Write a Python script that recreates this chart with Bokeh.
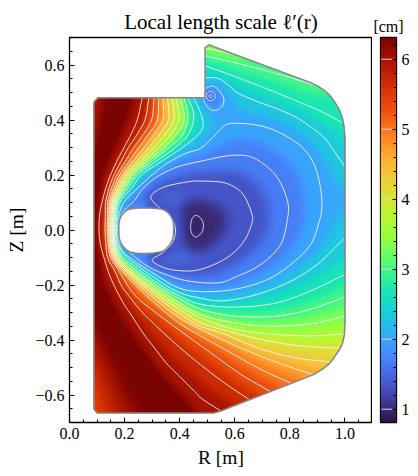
import numpy as np
from bokeh.embed import file_html
from bokeh.layouts import row
from bokeh.models import FixedTicker, Label, LinearAxis, LinearColorMapper, Range1d
from bokeh.palettes import Turbo256
from bokeh.plotting import figure
from bokeh.resources import INLINE

FONT = "Liberation Serif"
TITLE = "Local length scale ℓ′(r)"
COLOR_LOW = 0.81
COLOR_HIGH = 6.31
X_TICKS = [0.0, 0.2, 0.4, 0.6, 0.8, 1.0]
Y_TICKS = [-0.6, -0.4, -0.2, 0.0, 0.2, 0.4, 0.6]
CB_TICKS = [1, 2, 3, 4, 5, 6]

vessel = [(.0885,.465),(.103,.481),(.492,.481),(.492,.663),(.507,.673),(.876,.536),(.90,.524),(.925,.508),(.945,.49),(.963,.465),(.979,.439),
          (.99,.41),(.996,.38),(1.0,.34),(1.0,-.34),(.998,-.38),(.992,-.41),(.983,-.43),(.973,-.446),(.958,-.468),(.943,-.486),(.92,-.505),(.888,-.525),
          (.549,-.658),(.525,-.665),(.1,-.665),(.0885,-.652),(.0885,.465)]
hole = [(.179,0),(.181,.035),(.195,.06),(.216,.075),(.337,.075),(.36,.06),(.375,.035),(.378,0),(.375,-.03),(.36,-.058),
        (.335,-.078),(.222,-.08),(.195,-.06),(.181,-.03),(.179,0)]

c0 = [(.44,.02),(.447,.045),(.458,.053),(.475,.045),(.486,.02),(.482,-.005),(.47,-.02),(.458,-.026),(.445,-.015),(.44,.003),(.44,.02)]
c1 = [(.295,.12),(.32,.145),(.355,.16),(.452,.178),(.476,.178),(.561,.172),(.605,.152),(.634,.124),(.664,.05),(.664,.033),(.634,-.04),(.573,-.1),(.476,-.143),
      (.416,-.149),(.343,-.137),(.30,-.11),(.337,-.083),(.373,-.046),(.385,0),(.373,.039),(.349,.063),(.319,.087),(.295,.12)]
c2 = [(.175,0),(.185,.05),(.205,.078),(.233,.104),(.264,.148),(.313,.19),(.385,.227),(.476,.25),(.598,.272),(.658,.266),(.707,.238),(.755,.19),(.794,.093),
      (.79,.033),(.767,-.052),(.695,-.125),(.598,-.173),(.549,-.191),(.428,-.185),(.331,-.155),(.282,-.131),(.24,-.10),(.205,-.07),(.186,-.05),(.175,0)]
c3 = [(.17,0),(.179,-.05),(.195,-.08),(.225,-.105),(.30,-.155),(.40,-.212),(.476,-.224),(.598,-.216),(.719,-.18),(.804,-.125),(.876,-.052),(.907,.033),
      (.915,.07),(.913,.142),(.887,.24),(.84,.305),(.719,.372),(.598,.388),(.567,.382),(.519,.336),(.476,.297),(.42,.278),(.35,.24),(.30,.20),(.245,.15),(.197,.10),(.178,.05),(.17,0)]
c3_nub = [(.485,.48),(.492,.46),(.513,.437),(.543,.439),(.561,.469),(.543,.508),(.519,.524),(.495,.515)]
c2_nub = [(.530,.487),(.525,.499),(.513,.504),(.501,.499),(.496,.487),(.501,.475),(.513,.470),(.525,.475),(.530,.487)]
c1_nub = [(.519,.487),(.517,.491),(.513,.493),(.509,.491),(.507,.487),(.509,.483),(.513,.481),(.517,.483),(.519,.487)]
c4 = [(.451,.48),(.47,.44),(.483,.40),(.484,.375),(.47,.35),(.41,.30),(.335,.25),(.262,.20),(.224,.15),(.183,.10),(.172,.05),(.167,0),(.174,-.05),(.208,-.10),(.22,-.11),
      (.30,-.168),(.40,-.228),(.476,-.248),(.549,-.258),(.682,-.234),(.804,-.186),(.9,-.125),(1.0,-.028)]
c4_top = [(.495,.554),(.537,.552),(.573,.53),(.609,.5),(.682,.467),(.75,.442),(.815,.414),(.875,.375),(.924,.336),(.998,.233)]
c5 = [(.431,.48),(.451,.42),(.436,.355),(.385,.30),(.315,.25),(.248,.20),(.212,.15),(.176,.10),(.168,.05),(.164,0),(.17,-.05),(.196,-.10),(.22,-.12),
      (.30,-.18),(.40,-.24),(.476,-.27),(.622,-.28),(.755,-.264),(.888,-.216),(1.0,-.161)]
c5_top = [(.495,.596),(.58,.566),(.658,.536),(.75,.50),(.84,.463),(.92,.428),(.991,.39)]
c6 = [(.416,.48),(.43,.415),(.41,.345),(.361,.30),(.298,.25),(.237,.20),(.203,.15),(.171,.10),(.164,.05),(.161,0),(.166,-.05),(.188,-.10),(.22,-.13),
      (.30,-.19),(.40,-.25),(.476,-.288),(.598,-.313),(.755,-.313),(.876,-.288),(1.0,-.244)]
c6_top = [(.495,.633),(.598,.609),(.719,.578),(.888,.528)]
c7 = [(.402,.48),(.416,.40),(.385,.345),(.343,.30),(.285,.25),(.228,.20),(.195,.15),(.167,.10),(.161,.05),(.159,0),(.163,-.05),(.181,-.10),(.22,-.14),
      (.30,-.198),(.40,-.265),(.476,-.307),(.634,-.343),(.779,-.349),(.9,-.337),(1.0,-.313)]
c7_top = [(.495,.661),(.55,.65),(.605,.636)]
c8 = [(.387,.48),(.397,.40),(.365,.345),(.325,.30),(.272,.25),(.219,.20),(.188,.15),(.163,.10),(.158,.05),(.156,0),(.16,-.05),(.176,-.10),(.22,-.15),
      (.30,-.21),(.40,-.277),(.476,-.319),(.598,-.361),(.755,-.38),(.876,-.385),(1.0,-.378)]
c9 = [(.373,.48),(.379,.40),(.345,.345),(.306,.30),(.258,.25),(.21,.20),(.181,.15),(.159,.10),(.155,.05),(.153,0),(.157,-.05),(.17,-.10),(.213,-.15),
      (.30,-.22),(.40,-.29),(.476,-.337),(.561,-.364),(.695,-.398),(.84,-.422),(.985,-.43)]
c10 = [(.356,.48),(.359,.40),(.325,.345),(.289,.30),(.245,.25),(.201,.20),(.174,.15),(.155,.10),(.151,.05),(.15,0),(.153,-.05),(.165,-.10),(.206,-.15),
       (.30,-.23),(.40,-.305),(.476,-.35),(.561,-.378),(.682,-.428),(.815,-.464),(.947,-.48)]
c11 = [(.34,.48),(.339,.40),(.305,.345),(.271,.30),(.231,.25),(.192,.20),(.167,.15),(.15,.10),(.147,.05),(.146,0),(.149,-.05),(.16,-.10),(.198,-.15),
       (.30,-.243),(.40,-.32),(.476,-.361),(.537,-.39),(.634,-.434),(.755,-.482),(.888,-.527)]
c12 = [(.324,.48),(.319,.40),(.285,.345),(.252,.30),(.217,.25),(.182,.20),(.16,.15),(.145,.10),(.143,.05),(.142,0),(.145,-.05),(.155,-.10),(.19,-.15),
       (.30,-.257),(.40,-.34),(.476,-.385),(.585,-.446),(.695,-.507),(.813,-.561)]
c13 = [(.307,.48),(.298,.40),(.266,.345),(.234,.30),(.203,.25),(.172,.20),(.152,.15),(.139,.10),(.138,.05),(.137,0),(.14,-.05),(.149,-.10),(.18,-.15),
       (.22,-.215),(.25,-.25),(.30,-.29),(.40,-.365),(.476,-.42),(.537,-.464),(.622,-.525),(.737,-.592)]
c14 = [(.288,.48),(.274,.40),(.244,.345),(.214,.30),(.187,.25),(.161,.20),(.143,.15),(.131,.10),(.13,.05),(.129,0),(.132,-.05),(.138,-.10),(.165,-.15),
       (.19,-.205),(.22,-.245),(.26,-.295),(.30,-.335),(.40,-.427),(.476,-.49),(.561,-.555),(.66,-.622)]
c15 = [(.264,.48),(.246,.40),(.222,.345),(.198,.30),(.172,.25),(.149,.20),(.131,.15),(.118,.10),(.109,.05),(.107,0),(.112,-.05),(.125,-.10),(.149,-.173),
       (.198,-.27),(.22,-.303),(.27,-.379),(.30,-.418),(.355,-.488),(.40,-.533),(.452,-.585),(.476,-.61),(.549,-.658)]

contour_levels = [1.0, 4/3, 5/3, 2.0, 7/3, 8/3, 3.0, 10/3, 11/3, 4.0, 13/3, 14/3, 5.0, 16/3, 17/3, 6.0]
contour_arcs = [[c0], [c1, c1_nub], [c2, c2_nub], [c3, c3_nub], [c4, c4_top], [c5, c5_top], [c6, c6_top], [c7, c7_top],
                [c8], [c9], [c10], [c11], [c12], [c13], [c14], [c15]]

saturated_edge = [(.2,.48),(.14,.30),(.10,.20),(.09,.0),(.09,-.05),(.10,-.2),(.15,-.32),(.2,-.40),(.3,-.55),(.4,-.66)]
saturated_level = 6.4
centre_point = [(.46,.015)]
centre_level = 0.85
nub_point = [(.513,.487)]
nub_level = 1.2
tip_point = [(.505,.675)]
tip_level = 3.6


def spline(pts, n=10):
    """Centripetal Catmull-Rom through the read points; closed arcs wrap round."""
    a = np.array(pts, float)
    if len(a) < 3:
        return a
    closed = np.allclose(a[0], a[-1])
    b = np.vstack([a[-2], a, a[1]]) if closed else np.vstack([2 * a[0] - a[1], a, 2 * a[-1] - a[-2]])
    out = [a[0]]
    for i in range(1, len(b) - 2):
        p0, p1, p2, p3 = b[i - 1], b[i], b[i + 1], b[i + 2]
        t0 = 0.0
        t1 = t0 + max(np.hypot(*(p1 - p0)), 1e-6) ** .5
        t2 = t1 + max(np.hypot(*(p2 - p1)), 1e-6) ** .5
        t3 = t2 + max(np.hypot(*(p3 - p2)), 1e-6) ** .5
        for t in np.linspace(t1, t2, n + 1)[1:]:
            a1 = (t1 - t) / (t1 - t0) * p0 + (t - t0) / (t1 - t0) * p1
            a2 = (t2 - t) / (t2 - t1) * p1 + (t - t1) / (t2 - t1) * p2
            a3 = (t3 - t) / (t3 - t2) * p2 + (t - t2) / (t3 - t2) * p3
            b1 = (t2 - t) / (t2 - t0) * a1 + (t - t0) / (t2 - t0) * a2
            b2 = (t3 - t) / (t3 - t1) * a2 + (t - t1) / (t3 - t1) * a3
            out.append((t2 - t) / (t2 - t1) * b1 + (t - t1) / (t2 - t1) * b2)
    return np.array(out)


def densify(pts, step=.004):
    a = np.array(pts, float)
    if len(a) < 2:
        return a
    seg = np.hypot(*np.diff(a, axis=0).T)
    s = np.r_[0, np.cumsum(seg)]
    t = np.linspace(0, s[-1], max(int(s[-1] / step), 2))
    return np.c_[np.interp(t, s, a[:, 0]), np.interp(t, s, a[:, 1])]


def inside(px, py, poly):
    a = np.array(poly)
    x0, y0 = a[:-1, 0], a[:-1, 1]
    x1, y1 = a[1:, 0], a[1:, 1]
    r = np.zeros(px.shape, bool)
    for i in range(len(x0)):
        if y0[i] == y1[i]:
            continue
        c = (y0[i] > py) != (y1[i] > py)
        r ^= c & (px < x0[i] + (py - y0[i]) * (x1[i] - x0[i]) / (y1[i] - y0[i]))
    return r


PX = 1 / 275
x_c = np.arange(.06, 1.03, 2 * PX)
y_c = np.arange(-.70, .71, 2 * PX)
Xc, Yc = np.meshgrid(x_c, y_c)
groups = [(lv, np.vstack([densify(spline(a)) for a in arcs])) for lv, arcs in zip(contour_levels, contour_arcs)]
groups += [(saturated_level, densify(saturated_edge)), (centre_level, np.array(centre_point)),
           (nub_level, np.array(nub_point)), (tip_level, np.array(tip_point))]
num = np.zeros(Xc.shape)
den = np.zeros(Xc.shape)
for lv, pts in groups:
    d2 = np.full(Xc.shape, np.inf)
    for px_, py_ in pts:
        d2 = np.minimum(d2, (Xc - px_) ** 2 + (Yc - py_) ** 2)
    w = 1 / (d2 + 1e-7) ** 2
    num += w * lv
    den += w
coarse = num / den
for _ in range(6):
    coarse[1:-1, :] = (coarse[:-2, :] + 2 * coarse[1:-1, :] + coarse[2:, :]) / 4
    coarse[:, 1:-1] = (coarse[:, :-2] + 2 * coarse[:, 1:-1] + coarse[:, 2:]) / 4

x_f = np.arange(.08, 1.01, PX)
y_f = np.arange(-.675, .68, PX)
tmp = np.array([np.interp(x_f, x_c, r) for r in coarse])
field = np.array([np.interp(y_f, y_c, tmp[:, j]) for j in range(len(x_f))]).T
Xf, Yf = np.meshgrid(x_f, y_f)
hole_curve = spline(hole)
field[~inside(Xf, Yf, vessel) | inside(Xf, Yf, hole_curve)] = np.nan

mapper = LinearColorMapper(palette=Turbo256, low=COLOR_LOW, high=COLOR_HIGH, nan_color="#ffffff")

p = figure(frame_width=303, frame_height=385, min_border_left=69, min_border_right=0, min_border_top=37, min_border_bottom=54,
           x_range=Range1d(0, 1.1), y_range=Range1d(-.7, .7), output_backend="svg", toolbar_location=None,
           title=TITLE, x_axis_label="R [m]", y_axis_label="Z [m]")
p.grid.visible = False
p.image(image=[field], x=x_f[0] - PX / 2, y=y_f[0] - PX / 2, dw=len(x_f) * PX, dh=len(y_f) * PX, color_mapper=mapper)

all_arcs = [spline(a) for arcs in contour_arcs for a in arcs]
p.multi_line(xs=[a[:, 0].tolist() for a in all_arcs], ys=[a[:, 1].tolist() for a in all_arcs],
             line_color="#f4f4f4", line_width=0.9)
p.multi_line(xs=[[q[0] for q in vessel], hole_curve[:, 0].tolist()], ys=[[q[1] for q in vessel], hole_curve[:, 1].tolist()],
             line_color="#858585", line_width=1.5)

p.add_layout(Label(x=306, y=13, x_units="canvas", y_units="canvas", text="→", text_font=FONT, text_font_size="13px",
                   text_align="center", text_baseline="middle", text_color="#000000", level="overlay"))

p.title.align = "center"
p.title.text_font = FONT
p.title.text_font_size = "21px"
p.title.text_font_style = "normal"
p.title.text_color = "#000000"
p.title.standoff = 8
p.outline_line_color = "#000000"
p.outline_line_width = 1.3
overrides = {0: "0.0", 1: "1.0"}
for ax, ticks in ((p.xaxis[0], X_TICKS), (p.yaxis[0], Y_TICKS)):
    ax.ticker = FixedTicker(ticks=ticks, minor_ticks=[round(-.7 + .05 * i, 2) for i in range(0, 37)])
    ax.major_label_overrides = overrides
    ax.major_tick_in = 5
    ax.major_tick_out = 0
    ax.minor_tick_in = 3
    ax.minor_tick_out = 0
    ax.major_tick_line_color = "#000000"
    ax.minor_tick_line_color = "#000000"
    ax.axis_line_color = "#000000"
    ax.major_label_text_font = FONT
    ax.major_label_text_font_size = "16px"
    ax.major_label_text_color = "#000000"
    ax.axis_label_text_font = FONT
    ax.axis_label_text_font_size = "19.5px"
    ax.axis_label_text_font_style = "normal"
    ax.axis_label_text_color = "#000000"

cb = figure(frame_width=16, frame_height=385, min_border_left=8, min_border_right=22, min_border_top=37, min_border_bottom=54,
            x_range=Range1d(0, 1), y_range=Range1d(COLOR_LOW, COLOR_HIGH), output_backend="svg", toolbar_location=None,
            title="[cm]", x_axis_location=None, y_axis_location=None)
cb.grid.visible = False
cb.image(image=[np.linspace(COLOR_LOW, COLOR_HIGH, 256).reshape(-1, 1)], x=0, y=COLOR_LOW, dw=1, dh=COLOR_HIGH - COLOR_LOW, color_mapper=mapper)
cb.segment(x0=[0.05] * len(CB_TICKS), x1=[0.75] * len(CB_TICKS), y0=CB_TICKS, y1=CB_TICKS, line_color="#d8d8d8", line_width=1)
axis = LinearAxis(ticker=FixedTicker(ticks=CB_TICKS, minor_ticks=[round(.8 + .2 * i, 1) for i in range(0, 28)]))
axis.major_tick_in = 4
axis.major_tick_out = 0
axis.minor_tick_in = 3
axis.minor_tick_out = 0
axis.major_label_text_font = FONT
axis.major_label_text_font_size = "16px"
axis.major_label_text_color = "#000000"
axis.major_label_standoff = 5
axis.major_label_overrides = {t: str(t) for t in CB_TICKS}
cb.add_layout(axis, "right")
cb.title.align = "center"
cb.title.text_font = FONT
cb.title.text_font_size = "16px"
cb.title.text_font_style = "normal"
cb.title.text_color = "#000000"
cb.title.standoff = 6
cb.outline_line_color = "#000000"
cb.outline_line_width = 1.3

page = row(p, cb)
open("out.html", "w").write(file_html(page, INLINE))
